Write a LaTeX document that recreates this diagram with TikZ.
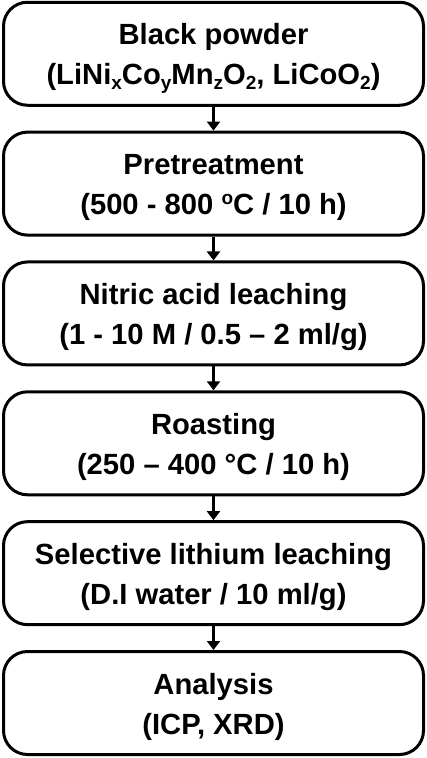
\documentclass[tikz,border=0pt]{standalone}
\usepackage{fontspec}
\setmainfont{Liberation Sans}
\usetikzlibrary{arrows.meta}
\newcommand\sbs[1]{\raisebox{-4.5pt}{\fontsize{19}{19}\selectfont #1}}
\newcommand\sps[1]{\raisebox{10pt}{\fontsize{19}{19}\selectfont #1}}
\newcommand\topstrut{\rule{0pt}{30pt}}
\newcommand\botstrut{\rule[-7.6pt]{0pt}{0pt}}
\tikzset{
  stepbox/.style={draw=black, line width=3pt, rounded corners=24pt, fill=white,
    minimum width=420pt, minimum height=103pt, inner sep=0pt, align=center,
    font=\fontsize{29.2}{40}\selectfont\bfseries},
  flow/.style={line width=3pt, -{Triangle[width=13pt,length=9pt]}}
}
\begin{document}
\begin{tikzpicture}[x=1pt,y=1pt]
\useasboundingbox (0,0) rectangle (427,-758);
\node[stepbox] (b1) at (213.5,-53.75) {\topstrut Black powder\\(LiNi\sbs{x}Co\sbs{y}Mn\sbs{z}O\sbs{2}, LiCoO\sbs{2})\botstrut};
\node[stepbox] (b2) at (213.5,-183.6) {\topstrut Pretreatment\\(500 - 800 \sps{o}C / 10 h)\botstrut};
\node[stepbox] (b3) at (213.5,-313.45) {\topstrut Nitric acid leaching\\(1 - 10 M / 0.5 – 2 ml/g)\botstrut};
\node[stepbox] (b4) at (213.5,-443.3) {\topstrut Roasting\\(250 – 400 °C / 10 h)\botstrut};
\node[stepbox] (b5) at (213.5,-573.15) {\topstrut Selective lithium leaching\\(D.I water / 10 ml/g)\botstrut};
\node[stepbox] (b6) at (213.5,-703) {\topstrut Analysis\\(ICP, XRD)\botstrut};
\draw[flow] (b1) -- (b2);
\draw[flow] (b2) -- (b3);
\draw[flow] (b3) -- (b4);
\draw[flow] (b4) -- (b5);
\draw[flow] (b5) -- (b6);
\end{tikzpicture}
\end{document}
